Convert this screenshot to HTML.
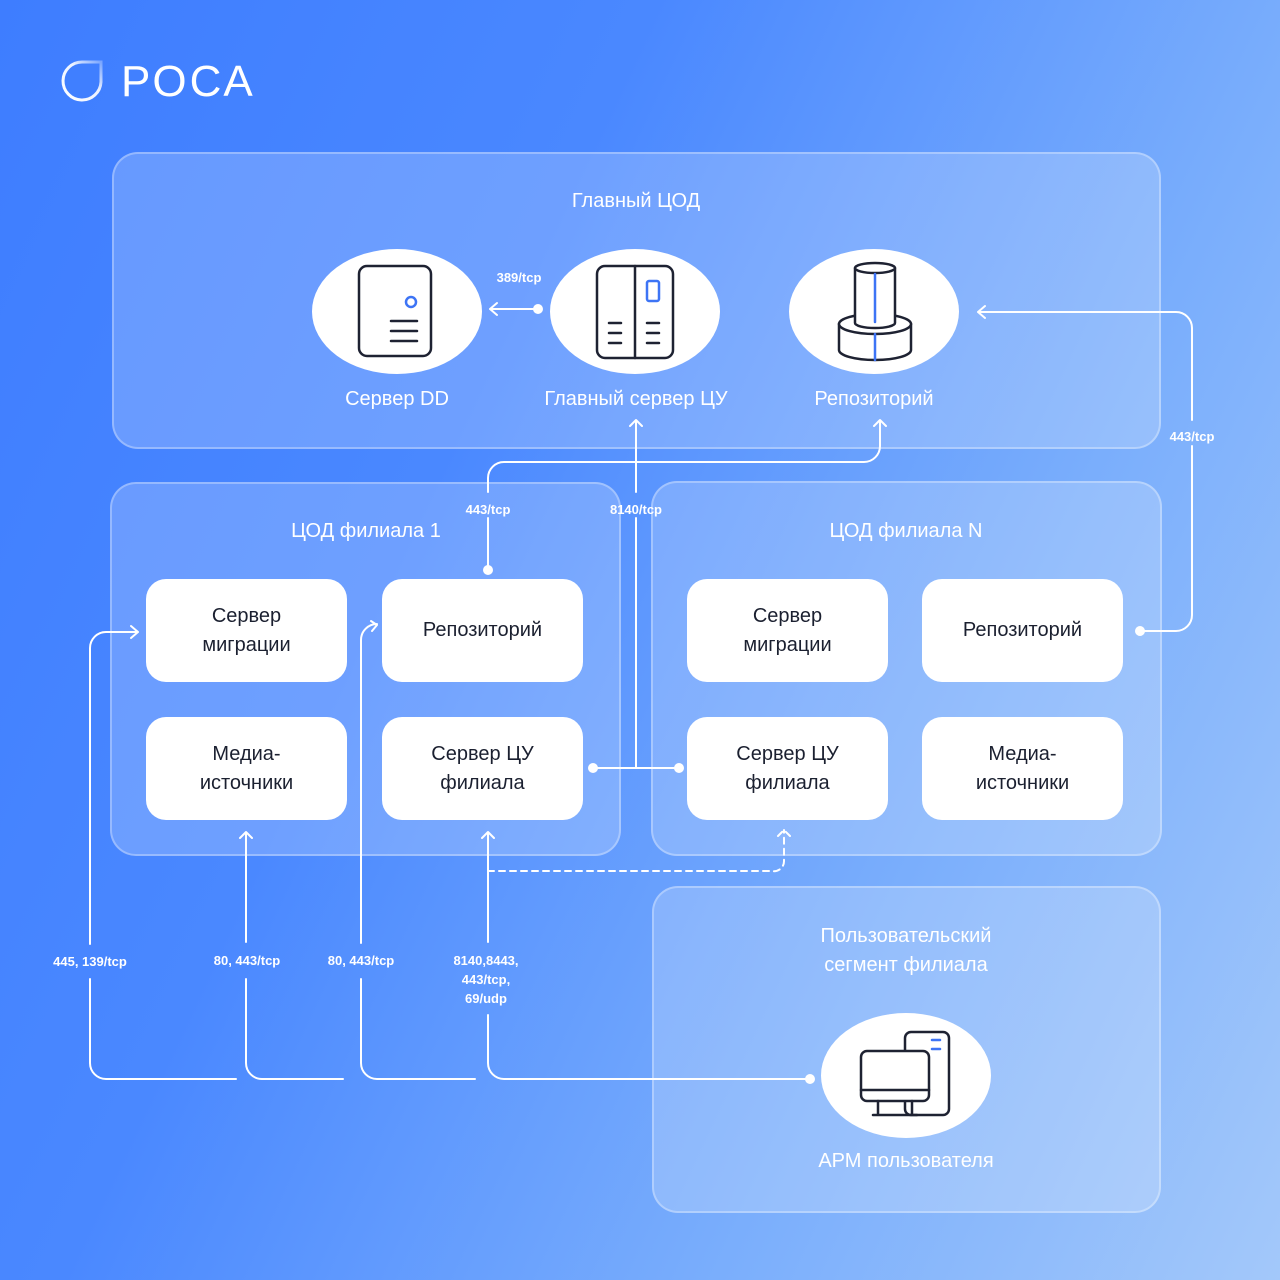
<!DOCTYPE html>
<html><head><meta charset="utf-8"><style>
*{margin:0;padding:0;box-sizing:border-box}
body{width:1280px;height:1280px;position:relative;overflow:hidden;font-family:"Liberation Sans",sans-serif;background:linear-gradient(115deg,#3e7dff 0%,#4a88ff 35%,#7aaefc 70%,#a3c8fa 100%)}
.p{position:absolute;border-radius:26px;background:rgba(255,255,255,0.2);border:2px solid rgba(255,255,255,0.3)}
.t{position:absolute;color:#fff;font-size:20px;text-align:center;line-height:29px}
.b{position:absolute;width:201px;height:103px;background:#fff;border-radius:20px;display:flex;align-items:center;justify-content:center;text-align:center;font-size:20px;line-height:29px;color:#1b2030}
.o{position:absolute;width:170px;height:125px;background:#fff;border-radius:50%}
.l{position:absolute;color:#fff;font-size:13px;font-weight:bold;text-align:center;line-height:19px;width:120px}
</style></head><body>
<svg width="1280" height="1280" style="position:absolute;left:0;top:0">
<defs><linearGradient id="lg" x1="0" y1="1" x2="1" y2="0"><stop offset="0" stop-color="#fff"/><stop offset="0.6" stop-color="#fff" stop-opacity="0.9"/><stop offset="1" stop-color="#fff" stop-opacity="0.3"/></linearGradient></defs>
<path d="M82 62 H101 V82 A19 19 0 1 1 82 62" fill="none" stroke="url(#lg)" stroke-width="3"/>
</svg>
<div style="position:absolute;left:121px;top:58px;color:#fff;font-size:44px;letter-spacing:3px;line-height:48px">РОСА</div>

<div class="p" style="left:112px;top:152px;width:1049px;height:297px"></div>
<div class="p" style="left:110px;top:482px;width:511px;height:374px"></div>
<div class="p" style="left:651px;top:481px;width:511px;height:375px"></div>
<div class="p" style="left:652px;top:886px;width:509px;height:327px"></div>

<div class="t" style="left:436px;top:187px;width:400px">Главный ЦОД</div>
<div class="t" style="left:166px;top:517px;width:400px">ЦОД филиала 1</div>
<div class="t" style="left:706px;top:517px;width:400px">ЦОД филиала N</div>
<div class="t" style="left:706px;top:922px;width:400px">Пользовательский<br>сегмент филиала</div>
<div class="t" style="left:197px;top:385px;width:400px">Сервер DD</div>
<div class="t" style="left:436px;top:385px;width:400px">Главный сервер ЦУ</div>
<div class="t" style="left:674px;top:385px;width:400px">Репозиторий</div>
<div class="t" style="left:706px;top:1147px;width:400px">АРМ пользователя</div>

<div class="o" style="left:312px;top:249px"></div>
<div class="o" style="left:550px;top:249px"></div>
<div class="o" style="left:789px;top:249px"></div>
<div class="o" style="left:821px;top:1013px"></div>

<div class="b" style="left:146px;top:579px">Сервер<br>миграции</div>
<div class="b" style="left:382px;top:579px">Репозиторий</div>
<div class="b" style="left:146px;top:717px">Медиа-<br>источники</div>
<div class="b" style="left:382px;top:717px">Сервер ЦУ<br>филиала</div>
<div class="b" style="left:687px;top:579px">Сервер<br>миграции</div>
<div class="b" style="left:922px;top:579px">Репозиторий</div>
<div class="b" style="left:687px;top:717px">Сервер ЦУ<br>филиала</div>
<div class="b" style="left:922px;top:717px">Медиа-<br>источники</div>

<svg width="1280" height="1280" style="position:absolute;left:0;top:0" fill="none" stroke-linecap="round" stroke-linejoin="round">
<g stroke="#1e2232" stroke-width="2.5">
<rect x="359" y="266" width="72" height="90" rx="8"/>
<path d="M391 321h26M391 331h26M391 341h26"/>
<rect x="597" y="266" width="76" height="92" rx="8"/><path d="M635 266v92M609 323h12M609 333h12M609 343h12M647 323h12M647 333h12M647 343h12"/>
<path d="M839 324v26a36 10 0 0 0 72 0v-26" fill="#fff"/>
<ellipse cx="875" cy="324" rx="36" ry="10" fill="#fff"/>
<path d="M855 268v55a20 5 0 0 0 40 0v-55" fill="#fff"/>
<ellipse cx="875" cy="268" rx="20" ry="5" fill="#fff"/>
<rect x="905" y="1032" width="44" height="83" rx="6"/>
<rect x="861" y="1051" width="68" height="50" rx="6" fill="#fff"/><path d="M861 1090h68M878 1101v13M912 1101v13M873 1115h44"/>
</g>
<g stroke="#3d74f5" stroke-width="2.5">
<circle cx="411" cy="302" r="5"/><rect x="647" y="281" width="12" height="20" rx="2"/><path d="M875 274v48M875 334v26"/><path d="M932 1040h8M932 1049h8"/>
</g>
<g stroke="#fff" stroke-width="2">
<path d="M538 309H490M497 303l-7 6 7 6"/>
<path d="M636 492v-72M630 426l6-6 6 6"/>
<path d="M636 518v250M592 768H680"/>
<path d="M488 492v-14a16 16 0 0 1 16-16H864a16 16 0 0 0 16-16v-26M874 426l6-6 6 6"/>
<path d="M488 518v52"/>
<path d="M1192 420v-92a16 16 0 0 0-16-16H978M985 306l-7 6 7 6"/>
<path d="M1192 446v169a16 16 0 0 1-16 16H1140"/>
<path d="M90 944V648a16 16 0 0 1 16-16H138M131 626l7 6-7 6"/>
<path d="M90 979v84a16 16 0 0 0 16 16H236"/>
<path d="M246 942V832M240 838l6-6 6 6M246 979v84a16 16 0 0 0 16 16H343"/>
<path d="M361 943V640a16 16 0 0 1 16-16M371 621l6 4-5 6"/>
<path d="M361 979v84a16 16 0 0 0 16 16H475"/>
<path d="M488 942V832M482 838l6-6 6 6M488 1015v48a16 16 0 0 0 16 16H810"/>
<path d="M488 871H772a10 10 0 0 0 12-10V830M778 836l6-6 6 6" stroke-dasharray="6 5"/>
</g>
<g fill="#fff"><circle cx="538" cy="309" r="5"/><circle cx="488" cy="570" r="5"/><circle cx="1140" cy="631" r="5"/><circle cx="593" cy="768" r="5"/><circle cx="679" cy="768" r="5"/><circle cx="810" cy="1079" r="5"/></g>
</svg>

<div class="l" style="left:459px;top:268px;width:120px">389/tcp</div>
<div class="l" style="left:428px;top:500px">443/tcp</div>
<div class="l" style="left:576px;top:500px">8140/tcp</div>
<div class="l" style="left:1132px;top:427px">443/tcp</div>
<div class="l" style="left:30px;top:952px">445, 139/tcp</div>
<div class="l" style="left:187px;top:951px">80, 443/tcp</div>
<div class="l" style="left:301px;top:951px">80, 443/tcp</div>
<div class="l" style="left:426px;top:951px">8140,8443,<br>443/tcp,<br>69/udp</div>
</body></html>
